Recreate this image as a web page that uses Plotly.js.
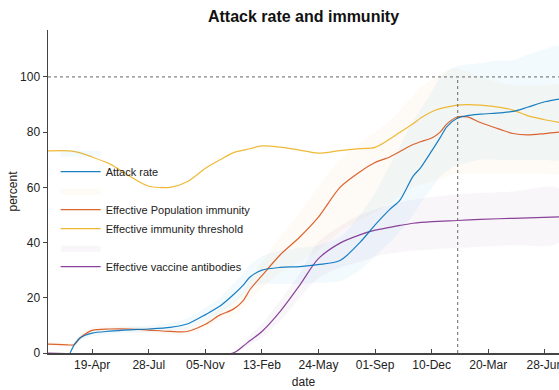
<!DOCTYPE html>
<html>
<head>
<meta charset="utf-8">
<script src="https://cdn.plot.ly/plotly-3.0.1.min.js"></script>
<style>html,body{margin:0;padding:0;background:#fff;}#chart{width:559px;height:390px;}</style>
</head>
<body>
<div id="chart"></div>
<script>
// ---------- data ----------
const tickDates = ['2020-04-19','2020-07-28','2020-11-05','2021-02-13','2021-05-24','2021-09-01','2021-12-10','2022-03-20','2022-06-28'];
const tickLabels = ['19-Apr','28-Jul','05-Nov','13-Feb','24-May','01-Sep','10-Dec','20-Mar','28-Jun'];
const xRange = ['2020-02-01','2022-07-23'];
const todayDate = '2022-01-25';
const fullImmunityLevel = 100;

const attackDates = ['2020-03-11','2020-03-20','2020-03-29','2020-04-19','2020-05-20','2020-06-25','2020-07-27','2020-09-04','2020-10-04','2020-11-06','2020-12-01','2020-12-24','2021-01-11','2021-01-23','2021-02-13','2021-03-17','2021-04-21','2021-05-23','2021-07-01','2021-08-05','2021-09-01','2021-09-27','2021-10-15','2021-11-07','2021-11-20','2021-12-11','2021-12-25','2022-01-06','2022-01-24','2022-02-11','2022-03-06','2022-04-10','2022-05-03','2022-05-28','2022-06-28','2022-07-23'];
const attackRate = [0,3.5,5.5,7.2,7.9,8.4,8.7,9.3,10.5,14,17,21,24.6,27.5,30,31,31.3,32,33.5,40,46.4,52,55.4,64,67,73.5,78,82,85,86,86.5,87,87.5,89,91,92];
const attackLow  = [0,2.5,4.5,6,6.8,7.2,7.5,8,9,12,14.5,18,21,23.5,25,25,25,25.5,26,30,35,40,44,50,54,60,64,66,68,69,70,70,70,70,70,70];
const attackHigh = [0.5,4.5,6.5,8.5,9,9.5,10,11,12.5,16.5,20,25,29,32,35,37,38,39,42,50,58,68,75,84,88,95,100,102,104,104.5,105,106,106,108,110,111];

const popDates = ['2020-02-01','2020-03-11','2020-03-18','2020-03-29','2020-04-19','2020-05-20','2020-06-25','2020-07-27','2020-09-04','2020-10-04','2020-11-06','2020-12-01','2020-12-24','2021-01-11','2021-01-23','2021-02-13','2021-03-17','2021-04-21','2021-05-23','2021-07-01','2021-08-05','2021-09-01','2021-09-27','2021-10-15','2021-11-07','2021-11-20','2021-12-11','2021-12-25','2022-01-06','2022-01-24','2022-02-11','2022-03-06','2022-04-10','2022-05-03','2022-05-28','2022-06-28','2022-07-23'];
const popImmunity = [3.2,2.9,3.0,5.5,8.2,8.7,8.7,8.3,7.8,7.8,10.5,13.8,15.8,19,23,28,35.5,42,49,60,65.6,69,71,73,75.5,76.5,78,80,83,85.5,85.5,83.5,81,79.5,79,79.5,80];
const popLow  = [2.5,2.3,2.4,4.5,7.2,7.7,7.7,7.3,6.7,6.6,9,12,13.5,16.5,19.5,23.5,29,33,37,44,48,51,54,57,60,61,62,63,64,65,65,65,65,65,65,65,65];
const popHigh = [4,3.6,3.7,6.5,9.3,9.8,9.8,9.4,9,9.2,12.3,16,18.5,22.5,27,33,42,51,60,70,76,80,84,88,93,96,99,101,102.5,103,102,100,98,97,97,97,97];

const thrDates = ['2020-02-01','2020-03-11','2020-03-29','2020-04-19','2020-05-20','2020-06-25','2020-07-27','2020-09-04','2020-10-04','2020-11-06','2020-12-01','2020-12-24','2021-01-23','2021-02-13','2021-03-17','2021-04-21','2021-05-23','2021-07-01','2021-08-05','2021-09-01','2021-09-27','2021-10-15','2021-11-07','2021-11-20','2021-12-11','2021-12-25','2022-01-24','2022-02-11','2022-03-06','2022-04-10','2022-05-03','2022-05-28','2022-06-28','2022-07-23'];
const threshold = [73.2,73.2,72.5,71,68.5,64,60.5,60,62,67,70,72.5,74,75,74.6,73.5,72.4,73.3,74,74.5,77.5,80,83,85,87.5,88.5,89.8,90,89.8,89,88,86,84.5,83.5];

const vacDates = ['2020-02-01','2020-12-24','2021-01-11','2021-01-23','2021-02-13','2021-03-17','2021-04-21','2021-05-23','2021-07-01','2021-08-05','2021-09-01','2021-09-27','2021-10-15','2021-11-07','2021-12-11','2022-01-24','2022-03-06','2022-05-03','2022-07-23'];
const vaccine = [0,0,2.5,4.5,7.8,15,24.6,34,39.8,42.8,44.5,45.5,46.2,47,47.6,48,48.4,48.8,49.3];
const vacLow  = [0,0,1.5,3,5.5,11.5,20,27,31,33,35,36,36.5,37,37.5,38,38.5,39,40];
const vacHigh = [0,0,3.5,6.5,10.5,19,29,40,46,50,52,53.5,54.5,55.5,56.5,57.5,58,58.5,59.5];

const seriesNames = ['Attack rate','Effective Population immunity','Effective immunity threshold','Effective vaccine antibodies'];
// ---------- end data ----------

const FONT = "'Liberation Sans Narrow', 'Arial Narrow', 'Liberation Sans', Arial, sans-serif";
const cBlue = '#0072BD', cOrange = '#D95319', cYellow = '#EDB120', cPurple = '#7E2F8E';

function band(dates, lo, hi, fillcolor, rank) {
  return {
    type: 'scatter', mode: 'lines', name: ' ',
    x: dates.concat(dates.slice().reverse()),
    y: hi.concat(lo.slice().reverse()),
    fill: 'toself', fillcolor: fillcolor,
    line: {width: 0, shape: 'spline', smoothing: 0.8},
    legendrank: rank, hoverinfo: 'skip'
  };
}
function line(dates, vals, name, color, rank) {
  return {
    type: 'scatter', mode: 'lines', name: name, x: dates, y: vals,
    line: {color: color, width: 1.2, shape: 'spline', smoothing: 0.8},
    opacity: 0.9, legendrank: rank
  };
}

const traces = [
  band(attackDates, attackLow, attackHigh, 'rgba(77,190,238,0.07)', 1),
  band(popDates, popLow, popHigh, 'rgba(240,150,60,0.05)', 3),
  band(vacDates, vacLow, vacHigh, 'rgba(126,47,142,0.045)', 6),
  line(vacDates, vaccine, seriesNames[3], cPurple, 7),
  line(thrDates, threshold, seriesNames[2], cYellow, 5),
  line(popDates, popImmunity, seriesNames[1], cOrange, 4),
  line(attackDates, attackRate, seriesNames[0], cBlue, 2)
];

const layout = {
  width: 559, height: 390,
  margin: {l: 48, r: 0, t: 30, b: 37},
  paper_bgcolor: '#fff', plot_bgcolor: '#fff',
  font: {family: FONT, size: 12, color: '#222'},
  title: {text: '<b>Attack rate and immunity</b>', font: {family: FONT, size: 16, color: '#111'},
          xref: 'paper', x: 0.5, xanchor: 'center', yref: 'container', y: 0.958, yanchor: 'middle'},
  showlegend: true,
  legend: {x: 0.015, xanchor: 'left', y: 0.665, yanchor: 'top', bgcolor: 'rgba(0,0,0,0)',
           font: {family: FONT, size: 11, color: '#222'}, itemwidth: 40, tracegroupgap: 0},
  xaxis: {
    type: 'date', range: xRange, tickvals: tickDates, ticktext: tickLabels,
    showline: true, linecolor: '#444', linewidth: 1.5, ticks: 'inside', ticklen: 4, tickcolor: '#444',
    showgrid: false, zeroline: false, tickfont: {size: 12, color: '#222'},
    ticklabeloverflow: 'allow',
    title: {text: 'date', font: {size: 12, color: '#222'}, standoff: 6},
    layer: 'below traces'
  },
  yaxis: {
    range: [0, 117], tickvals: [0,20,40,60,80,100],
    showline: true, linecolor: '#444', linewidth: 1.5, ticks: 'outside', ticklen: 4, tickcolor: '#444',
    showgrid: false, zeroline: false, tickfont: {size: 12, color: '#222'},
    title: {text: 'percent', font: {size: 12, color: '#222'}, standoff: 0}
  },
  shapes: [
    {type: 'line', xref: 'paper', x0: 0, x1: 1, yref: 'y', y0: fullImmunityLevel, y1: fullImmunityLevel,
     line: {color: '#666', width: 1, dash: 'dot'}},
    {type: 'line', xref: 'x', x0: todayDate, x1: todayDate, yref: 'y', y0: 0, y1: fullImmunityLevel,
     line: {color: '#666', width: 1, dash: 'dot'}}
  ],
  hovermode: false
};

Plotly.newPlot('chart', traces, layout, {displayModeBar: false, staticPlot: true});
</script>
</body>
</html>
